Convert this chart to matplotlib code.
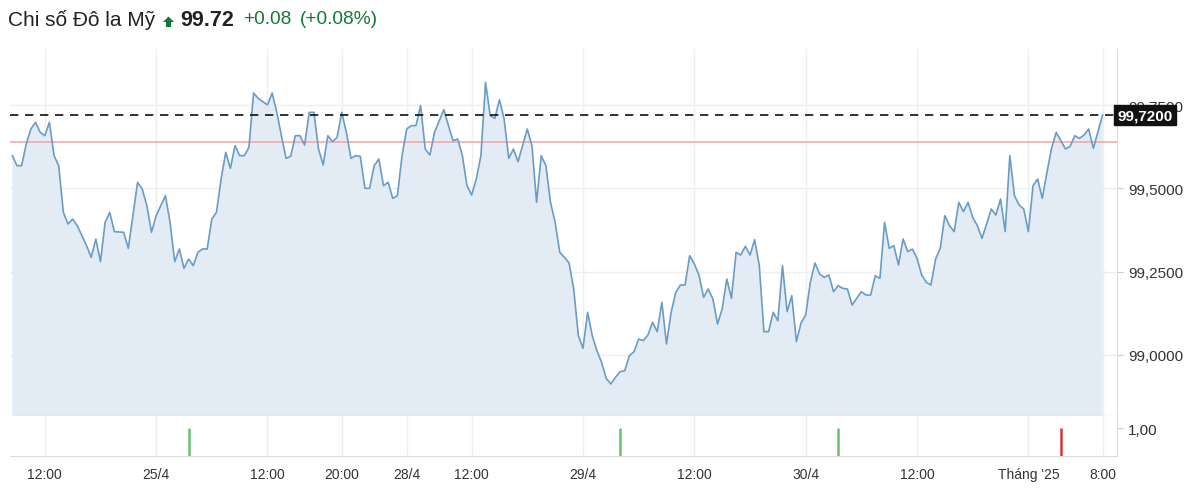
import matplotlib
matplotlib.use('Agg')
import matplotlib.pyplot as plt
import matplotlib.ticker as ticker
from matplotlib.patches import Polygon
from matplotlib.transforms import IdentityTransform

plt.rcParams['font.family'] = ['Liberation Sans', 'DejaVu Sans']

# --- datos: barras de 30 minutos (indice de barra) y valor del indice ---
bar_idx = [0, 1, 2, 3, 4, 5, 6, 7, 8, 9, 10, 11, 12, 13, 14, 16, 17, 18, 19, 20,
           21, 22, 24, 25, 27, 28, 29, 30, 31, 33, 34, 35, 36, 37, 38, 39, 40, 41, 42, 43,
           44, 45, 46, 47, 48, 49, 50, 51, 52, 53, 55, 56, 57, 58, 59, 60, 61, 62, 63, 64,
           65, 66, 67, 68, 69, 70, 71, 72, 73, 74, 75, 76, 77, 78, 79, 80, 81, 82, 83, 84,
           85, 86, 87, 88, 89, 90, 91, 93, 94, 95, 96, 97, 98, 99, 100, 101, 102, 103, 104, 105,
           106, 107, 108, 109, 111, 112, 113, 114, 115, 116, 117, 118, 119, 120, 121, 122, 123, 124, 125, 126,
           127, 128, 129, 130, 131, 132, 133, 134, 135, 136, 137, 138, 139, 140, 141, 142, 143, 144, 145, 146,
           147, 148, 149, 150, 151, 152, 153, 154, 155, 156, 157, 158, 159, 160, 161, 162, 163, 164, 165, 166,
           167, 168, 169, 170, 171, 172, 173, 174, 175, 176, 177, 178, 179, 180, 181, 182, 183, 184, 185, 186,
           187, 188, 189, 190, 191, 192, 193, 194, 195, 196, 197, 198, 199, 200, 201, 202, 203, 204, 205, 206,
           207, 208, 209, 210, 211, 212, 213, 214, 215, 216, 217, 218, 219, 220, 221, 222, 223, 224, 225, 226,
           227, 228, 229, 230, 231, 232, 233, 235]
dxy = [99.598, 99.568, 99.568, 99.633, 99.678, 99.698, 99.668, 99.658, 99.698, 99.598,
       99.568, 99.428, 99.393, 99.408, 99.388, 99.328, 99.293, 99.348, 99.280, 99.398,
       99.428, 99.370, 99.368, 99.320, 99.518, 99.498, 99.448, 99.368, 99.418, 99.478,
       99.398, 99.280, 99.318, 99.260, 99.288, 99.268, 99.308, 99.318, 99.318, 99.408,
       99.428, 99.528, 99.608, 99.560, 99.628, 99.598, 99.598, 99.623, 99.786, 99.770,
       99.750, 99.786, 99.728, 99.658, 99.590, 99.596, 99.658, 99.658, 99.630, 99.728,
       99.728, 99.618, 99.570, 99.658, 99.640, 99.653, 99.728, 99.668, 99.590, 99.598,
       99.596, 99.500, 99.500, 99.568, 99.588, 99.508, 99.518, 99.470, 99.478, 99.598,
       99.678, 99.688, 99.688, 99.748, 99.618, 99.600, 99.668, 99.736, 99.688, 99.643,
       99.648, 99.598, 99.508, 99.480, 99.528, 99.598, 99.818, 99.718, 99.710, 99.766,
       99.708, 99.590, 99.618, 99.580, 99.678, 99.628, 99.458, 99.598, 99.568, 99.458,
       99.398, 99.308, 99.293, 99.276, 99.198, 99.058, 99.020, 99.128, 99.058, 99.013,
       98.978, 98.930, 98.913, 98.933, 98.950, 98.953, 98.998, 99.010, 99.048, 99.043,
       99.060, 99.098, 99.070, 99.158, 99.033, 99.128, 99.188, 99.210, 99.210, 99.298,
       99.273, 99.240, 99.173, 99.198, 99.168, 99.093, 99.138, 99.228, 99.170, 99.308,
       99.300, 99.326, 99.300, 99.346, 99.268, 99.070, 99.070, 99.128, 99.103, 99.268,
       99.130, 99.178, 99.040, 99.096, 99.120, 99.218, 99.276, 99.243, 99.233, 99.240,
       99.190, 99.208, 99.200, 99.198, 99.150, 99.170, 99.190, 99.180, 99.180, 99.238,
       99.230, 99.398, 99.320, 99.328, 99.270, 99.348, 99.310, 99.318, 99.290, 99.240,
       99.218, 99.210, 99.288, 99.320, 99.418, 99.388, 99.370, 99.458, 99.430, 99.458,
       99.413, 99.388, 99.350, 99.393, 99.438, 99.420, 99.468, 99.370, 99.598, 99.478,
       99.450, 99.438, 99.370, 99.508, 99.528, 99.470, 99.548, 99.620, 99.668, 99.643,
       99.618, 99.626, 99.658, 99.650, 99.660, 99.678, 99.620, 99.720]

prev_close = 99.64
last_price = 99.72
change = 0.08
change_pct = 0.08

tick_pos = [7, 31, 55, 71, 85, 99, 123, 147, 171, 195, 219, 235]
tick_lbl = ['12:00', '25/4', '12:00', '20:00', '28/4', '12:00', '29/4', '12:00',
            '30/4', '12:00', "Tháng '25", '8:00']
ytick_vals = [99.0, 99.25, 99.5, 99.75]

# senales del panel inferior
sig_idx = [38, 131, 178, 226]
sig_val = [1.0, 1.0, 1.0, 1.0]
sig_col = ['#6cc070', '#6cc070', '#6cc070', '#d9343a']

W, H = 1200, 502
fig = plt.figure(figsize=(12, 5.02), dpi=100, facecolor='white')
ax = fig.add_axes([10 / W, 1 - 417 / H, (1117 - 10) / W, (417 - 50) / H])
ax2 = fig.add_axes([10 / W, 1 - 457 / H, (1117 - 10) / W, 40 / H], sharex=ax)

line_c = '#6a9cc6'
fill_c = '#e3ecf4'
grid_c = '#efefef'
lab_c = '#333333'

# --- panel principal ---
ax.fill_between(bar_idx, dxy, 98.0, color=fill_c, linewidth=0, zorder=1)
ax.plot(bar_idx, dxy, color=line_c, linewidth=1.2, zorder=3)
ax.axhline(prev_close, color='#f3a3a3', linewidth=1.1, zorder=2)
ax.axhline(last_price, color='#111111', linewidth=1.2, linestyle=(0, (5, 4)), zorder=4)

ax.set_xlim(-0.5, 238.1)
ax.set_ylim(98.817, 99.918)
ax.set_yticks(ytick_vals)
ax.yaxis.set_major_formatter(ticker.FuncFormatter(lambda v, p: f'{v:.4f}'.replace('.', ',')))
ax.yaxis.tick_right()
ax.tick_params(axis='y', length=4, color='#cccccc', labelsize=11, labelcolor=lab_c, pad=4)
ax.tick_params(axis='x', length=0, labelbottom=False)
ax.set_xticks(tick_pos)
ax.grid(True, color=grid_c, linewidth=1)
ax.set_axisbelow(True)
for s in ['top', 'left']:
    ax.spines[s].set_visible(False)
ax.spines['right'].set_color('#dddddd')
ax.spines['bottom'].set_color('#aaaaaa')

# etiqueta del ultimo precio
ax.text(1.0, last_price, f'{last_price:.4f}'.replace('.', ','), transform=ax.get_yaxis_transform(),
        ha='left', va='center', color='white', fontsize=11, fontweight='bold', zorder=10,
        clip_on=False,
        bbox=dict(boxstyle='square,pad=0.22', facecolor='#111111', edgecolor='#111111'))

# --- panel inferior ---
ax2.vlines(sig_idx, 0, sig_val, colors=sig_col, linewidth=1.8)
ax2.set_ylim(0, 1.43)
ax2.set_yticks([1.0])
ax2.yaxis.set_major_formatter(ticker.FuncFormatter(lambda v, p: f'{v:.2f}'.replace('.', ',')))
ax2.yaxis.tick_right()
ax2.tick_params(axis='y', length=4, color='#cccccc', labelsize=11, labelcolor=lab_c, pad=4)
ax2.set_xticks(tick_pos)
ax2.set_xticklabels(tick_lbl)
ax2.tick_params(axis='x', length=0, labelsize=10, labelcolor=lab_c, pad=8)
ax2.grid(True, axis='x', color=grid_c, linewidth=1)
ax2.set_axisbelow(True)
for s in ['top', 'left']:
    ax2.spines[s].set_visible(False)
ax2.spines['right'].set_color('#dddddd')
ax2.spines['bottom'].set_color('#dddddd')

# --- cabecera ---
ty = 1 - 20 / H
fig.text(8 / W, ty, 'Chi số Đô la Mỹ', fontsize=15, color='#222222', va='center', ha='left')
arrow = [(163, 23), (168.5, 17.5), (174, 23), (171, 23), (171, 28), (166, 28), (166, 23)]
fig.add_artist(Polygon([(x, H - y) for x, y in arrow], closed=True, transform=IdentityTransform(),
                       facecolor='#137a36', edgecolor='none'))
fig.text(180 / W, ty, f'{last_price:.2f}', fontsize=15.5, fontweight='bold', color='#222222',
         va='center', ha='left')
fig.text(243 / W, ty, f'+{change:.2f}', fontsize=13.8, color='#137a36', va='center', ha='left')
fig.text(300 / W, ty, f'(+{change_pct:.2f}%)', fontsize=13.8, color='#137a36', va='center', ha='left')

fig.savefig('out.png', dpi=100, facecolor='white')
